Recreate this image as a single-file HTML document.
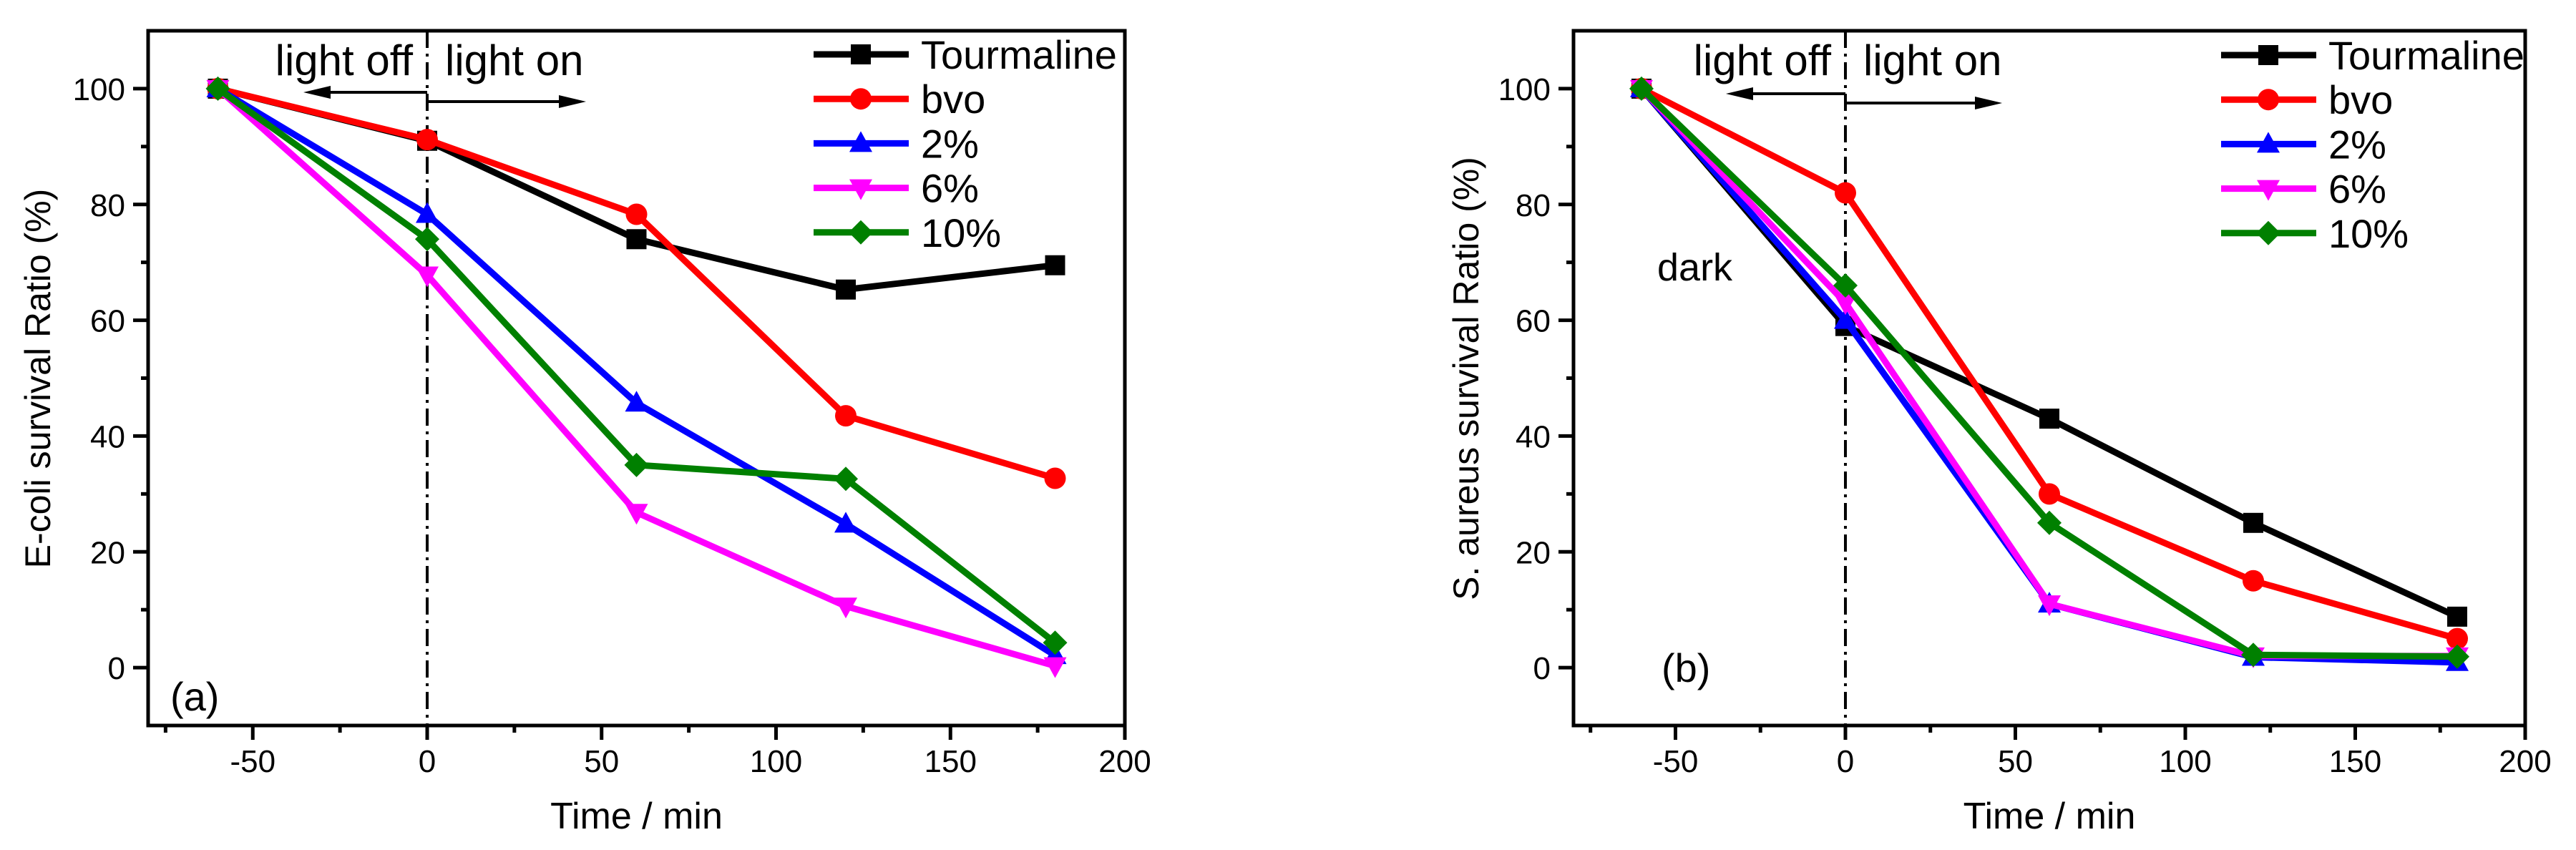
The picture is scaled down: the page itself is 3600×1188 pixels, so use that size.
<!DOCTYPE html>
<html><head><meta charset="utf-8"><style>
html,body{margin:0;padding:0;background:#fff;}
svg{display:block;font-family:"Liberation Sans",Arial,sans-serif;}
</style></head><body>
<svg id="chart" width="3600" height="1188" viewBox="0 0 3600 1188" xmlns="http://www.w3.org/2000/svg">
<rect width="3600" height="1188" fill="#fff"/>
</svg>
<script>
const times = [-60, 0, 60, 120, 180];
const seriesNames = ["Tourmaline", "bvo", "2%", "6%", "10%"];
const aTourmaline = [100, 91, 74, 65.3, 69.5];
const aBvo = [100, 91.2, 78.3, 43.5, 32.7];
const a2 = [100, 78.3, 45.7, 24.8, 2.1];
const a6 = [100, 67.8, 26.8, 10.6, 0.3];
const a10 = [100, 74, 35, 32.6, 4.3];
const bTourmaline = [100, 59, 43, 25, 8.8];
const bBvo = [100, 82, 30, 15, 5];
const b2 = [100, 60, 11, 1.8, 0.9];
const b6 = [100, 63, 11, 2, 2];
const b10 = [100, 66, 25, 2.2, 1.9];
const xTicks = [-50, 0, 50, 100, 150, 200];
const yTicks = [0, 20, 40, 60, 80, 100];

const colors = ["#000000", "#ff0000", "#0000ff", "#ff00ff", "#008000"];
const markers = ["square", "circle", "up", "down", "diamond"];
const NS = "http://www.w3.org/2000/svg";
const svg = document.getElementById("chart");
function mk(tag, attrs, parent) {
  const e = document.createElementNS(NS, tag);
  for (const k in attrs) e.setAttribute(k, attrs[k]);
  (parent || svg).appendChild(e);
  return e;
}
function marker(g, type, x, y, c) {
  let e;
  if (type === "square") e = mk("rect", {x: x-14, y: y-14, width: 28, height: 28, fill: c}, g);
  else if (type === "circle") e = mk("circle", {cx: x, cy: y, r: 15, fill: c}, g);
  else if (type === "up") e = mk("polygon", {points: `${x},${y-17} ${x-16},${y+12} ${x+16},${y+12}`, fill: c}, g);
  else if (type === "down") e = mk("polygon", {points: `${x},${y+17} ${x-16},${y-12} ${x+16},${y-12}`, fill: c}, g);
  else e = mk("polygon", {points: `${x},${y-17} ${x+17},${y} ${x},${y+17} ${x-17},${y}`, fill: c}, g);
  return e;
}

function panel(cfg) {
  const L = cfg.left, R = cfg.right, T = 43, B = 1014;
  const xs = v => L + (v + 80) / 280 * (R - L);
  const ys = v => T + (110 - v) / 120 * (B - T);
  const g = mk("g", {});
  
  
  // dash-dot line at x=0
  const vl = mk("line", {x1: xs(0), y1: T, x2: xs(0), y2: B, stroke: "#000", "stroke-width": 4, "stroke-dasharray": "24 8 4 8"}, g);
  
  
  // series
  cfg.data.forEach((arr, i) => {
    const sg = mk("g", {}, g);
    
    
    mk("polyline", {points: arr.map((v, j) => xs(times[j]) + "," + ys(v)).join(" "), fill: "none", stroke: colors[i], "stroke-width": 9, "stroke-linejoin": "miter"}, sg);
    arr.forEach((v, j) => {
      const m = marker(sg, markers[i], xs(times[j]), ys(v), colors[i]);
      
      
    });
  });
  // frame
  const fr = mk("rect", {x: L, y: T, width: R - L, height: B - T, fill: "none", stroke: "#000", "stroke-width": 5}, g);
  
  
  // x ticks
  for (let v = -75; v <= 200; v += 25) {
    const major = v % 50 === 0;
    mk("line", {x1: xs(v), y1: B, x2: xs(v), y2: B + (major ? 20 : 10), stroke: "#000", "stroke-width": 5}, g);
  }
  xTicks.forEach(v => {
    const t = mk("text", {x: xs(v), y: 1079, "text-anchor": "middle", "font-size": 44}, g);
    t.textContent = String(v);
    
    
  });
  for (let v = -10; v <= 110; v += 10) {
    if (v === -10 || v === 110) continue;
    const major = v % 20 === 0 && v >= 0;
    mk("line", {x1: L, y1: ys(v), x2: L - (major ? 21 : 10), y2: ys(v), stroke: "#000", "stroke-width": 5}, g);
  }
  yTicks.forEach(v => {
    const t = mk("text", {x: L - 32, y: ys(v) + 16, "text-anchor": "end", "font-size": 44}, g);
    t.textContent = String(v);
    
    
  });
  // axis titles
  const xt = mk("text", {x: (L + R) / 2, y: 1158, "text-anchor": "middle", "font-size": 52}, g);
  xt.textContent = "Time / min";
  
  
  const yt = mk("text", {x: 0, y: 0, "text-anchor": "middle", "font-size": 50, transform: `translate(${cfg.ylabX},529) rotate(-90)`}, g);
  yt.textContent = cfg.ylabel;
  
  
  // light labels and arrows
  const lo = mk("text", {x: xs(0) - 20, y: 105, "text-anchor": "end", "font-size": 60}, g);
  lo.textContent = "light off";
  
  
  const ln = mk("text", {x: xs(0) + 25, y: 105, "font-size": 60}, g);
  ln.textContent = "light on";
  
  
  const x0 = xs(0);
  mk("line", {x1: x0, y1: cfg.arrL, x2: cfg.arrLx + 20, y2: cfg.arrL, stroke: "#000", "stroke-width": 4}, g);
  mk("polygon", {points: `${cfg.arrLx},${cfg.arrL} ${cfg.arrLx+38},${cfg.arrL-9} ${cfg.arrLx+38},${cfg.arrL+9}`, fill: "#000"}, g);
  mk("line", {x1: x0, y1: cfg.arrL + 13, x2: cfg.arrRx - 20, y2: cfg.arrL + 13, stroke: "#000", "stroke-width": 4}, g);
  mk("polygon", {points: `${cfg.arrRx},${cfg.arrL+13} ${cfg.arrRx-38},${cfg.arrL+4} ${cfg.arrRx-38},${cfg.arrL+22}`, fill: "#000"}, g);
  // panel tag
  const pt = mk("text", {x: cfg.tagX, y: cfg.tagY, "font-size": 56}, g);
  pt.textContent = cfg.tag;
  
  
  if (cfg.dark) {
    const d = mk("text", {x: 2316, y: 392, "font-size": 54}, g);
    d.textContent = "dark";
    
    
  }
  // legend
  const lg = mk("g", {}, g);
  
  
  seriesNames.forEach((n, i) => {
    const y = cfg.legY + i * 62.2;
    const eg = mk("g", {}, lg);
    
    
    mk("line", {x1: cfg.legX, y1: y, x2: cfg.legX + 133, y2: y, stroke: colors[i], "stroke-width": 9}, eg);
    marker(eg, markers[i], cfg.legX + 66, y, colors[i]);
    const t = mk("text", {x: cfg.legX + 150, y: y + 20, "font-size": 56}, eg);
    t.textContent = n;
  });
}

panel({name: "panel-a-ecoli", left: 207, right: 1572, ylabel: "E-coli survival Ratio (%)", ylabX: 70,
  data: [aTourmaline, aBvo, a2, a6, a10], arrL: 129, arrLx: 424, arrRx: 819,
  tag: "(a)", tagX: 238, tagY: 993, legX: 1137, legY: 76, dark: false});
panel({name: "panel-b-saureus", left: 2199, right: 3529, ylabel: "S. aureus survival Ratio (%)", ylabX: 2066,
  data: [bTourmaline, bBvo, b2, b6, b10], arrL: 131, arrLx: 2412, arrRx: 2798,
  tag: "(b)", tagX: 2322, tagY: 953, legX: 3104, legY: 77, dark: true});
</script>
</body></html>
